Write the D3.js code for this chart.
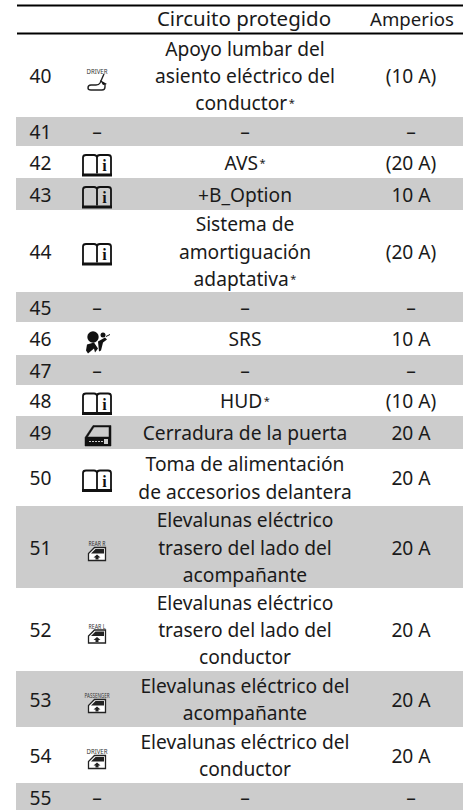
<!DOCTYPE html>
<html>
<head>
<meta charset="utf-8">
<script src="https://cdn.jsdelivr.net/npm/d3@7"></script>
<style>
html, body { margin: 0; padding: 0; background: #fff; }
svg { display: block; }
text { font-family: "Noto Sans", sans-serif; fill: #1a1a1a; }
</style>
</head>
<body>
<div id="chart"></div>
<script>
const fuses = [40, 41, 42, 43, 44, 45, 46, 47, 48, 49, 50, 51, 52, 53, 54, 55];
const icons = ["seat", "", "book", "book", "book", "", "airbag", "", "book", "door", "book", "window", "window", "window", "window", ""];
const iconLabels = ["DRIVER", "", "", "", "", "", "", "", "", "", "", "REAR R", "REAR L", "PASSENGER", "DRIVER", ""];
const circuits = [
  ["Apoyo lumbar del", "asiento eléctrico del", "conductor*"],
  ["–"],
  ["AVS*"],
  ["+B_Option"],
  ["Sistema de", "amortiguación", "adaptativa*"],
  ["–"],
  ["SRS"],
  ["–"],
  ["HUD*"],
  ["Cerradura de la puerta"],
  ["Toma de alimentación", "de accesorios delantera"],
  ["Elevalunas eléctrico", "trasero del lado del", "acompañante"],
  ["Elevalunas eléctrico", "trasero del lado del", "conductor"],
  ["Elevalunas eléctrico del", "acompañante"],
  ["Elevalunas eléctrico del", "conductor"],
  ["–"]
];
const amps = ["(10 A)", "–", "(20 A)", "10 A", "(20 A)", "–", "10 A", "–", "(10 A)", "20 A", "20 A", "20 A", "20 A", "20 A", "20 A", "–"];
const headers = ["Circuito protegido", "Amperios"];

// row edges measured from the page, the last row runs off the bottom
const rowEdges = [34, 117, 146, 178, 210, 292, 322, 355, 385, 416, 449, 506, 588, 671, 727, 783, 812];

const svgWidth = 467, svgHeight = 810;
const left = 16, right = 463;
const lineHeight = 27.4, fontSize = 19.2;
const col = { num: 40.5, icon: 97, circuit: 245, amps: 411 };

const svg = d3.select("#chart").append("svg")
  .attr("width", svgWidth)
  .attr("height", svgHeight);

const rows = fuses.map((f, i) => ({
  fuse: f, icon: icons[i], label: iconLabels[i], lines: circuits[i], amp: amps[i],
  y0: rowEdges[i], y1: rowEdges[i + 1], cy: (rowEdges[i] + rowEdges[i + 1]) / 2
}));

// zebra, odd fuse numbers are grey
svg.selectAll(".band")
  .data(rows.filter(d => d.fuse % 2 == 1))
  .enter().append("rect")
  .attr("class", "band")
  .attr("x", left)
  .attr("y", d => d.y0)
  .attr("width", right - left)
  .attr("height", d => d.y1 - d.y0)
  .attr("fill", "#cccccc");

// header rules
svg.selectAll(".rule")
  .data([5.5, 33.5])
  .enter().append("line")
  .attr("x1", left + 1).attr("x2", right)
  .attr("y1", d => d).attr("y2", d => d)
  .attr("stroke", "#000").attr("stroke-width", 2);

svg.selectAll(".head")
  .data(headers)
  .enter().append("text")
  .attr("x", (d, i) => i == 0 ? 244 : 412)
  .attr("y", 26)
  .attr("text-anchor", "middle")
  .attr("font-size", (d, i) => i == 0 ? 20.5 : 18.6)
  .text(d => d);

const row = svg.selectAll(".row")
  .data(rows)
  .enter().append("g")
  .attr("class", "row");

row.append("text")
  .attr("x", col.num)
  .attr("y", d => d.cy + 7.5)
  .attr("text-anchor", "middle")
  .attr("font-size", fontSize)
  .text(d => d.fuse);

row.append("text")
  .attr("x", col.amps)
  .attr("y", d => d.cy + 7.5)
  .attr("text-anchor", "middle")
  .attr("font-size", fontSize)
  .text(d => d.amp);

// dash in the icon column for empty fuses
row.filter(d => d.icon == "").append("text")
  .attr("x", col.icon)
  .attr("y", d => d.cy + 7.5)
  .attr("text-anchor", "middle")
  .attr("font-size", fontSize)
  .text("–");

row.each(function(d) {
  const g = d3.select(this);
  d.lines.forEach((line, i) => {
    const t = g.append("text")
      .attr("x", col.circuit)
      .attr("y", d.cy + 7.5 + (i - (d.lines.length - 1) / 2) * lineHeight)
      .attr("text-anchor", "middle")
      .attr("font-size", fontSize);
    if (line.endsWith("*")) {
      t.append("tspan").text(line.slice(0, -1));
      t.append("tspan").attr("font-size", 11).attr("dy", -3).attr("dx", 1.5).text("*");
    } else {
      t.text(line);
    }
  });
});

function drawBook(g) {
  g.append("path")
    .attr("d", "M-14,9 V-8 Q-14,-10.5 -11,-10.5 H-3 Q0,-10.5 0,-8 V8 M0,-8 Q0,-10.5 3,-10.5 H11 Q14,-10.5 14,-8 V9")
    .attr("fill", "none").attr("stroke", "#111").attr("stroke-width", 1.8);
  g.append("path").attr("d", "M-15,8 H15 V11 H-15 Z").attr("fill", "#111");
  g.append("text").attr("x", 7.5).attr("y", 5.5).attr("text-anchor", "middle")
    .attr("font-size", 16).attr("font-weight", 700)
    .style("font-family", "'Liberation Serif', serif").style("fill", "#111").text("i");
}

function drawSeat(g) {
  g.append("path")
    .attr("d", "M7,-8 L3,1 Q2,3 -1,3 L-6,3 Q-9,3 -9,6 Q-9,8 -6,8 H5 Q8,8 8,5 V2")
    .attr("fill", "none").attr("stroke", "#222").attr("stroke-width", 1.4);
  g.append("path").attr("d", "M3,-2 L10,2 L6,3 Z").attr("fill", "#111");
}

function drawAirbag(g) {
  g.append("circle").attr("cx", -4).attr("cy", -5.5).attr("r", 5.7).attr("fill", "#111");
  g.append("circle").attr("cx", 6).attr("cy", -7.5).attr("r", 2.5).attr("fill", "#111");
  g.append("path").attr("d", "M-10,2 L-3,0 L1,6 L-2,10 L-3,6 L-9,11 L-11,8 Z").attr("fill", "#111");
  g.append("path").attr("d", "M1,-1 L8,-5 L10,-3 L6,0 L4,8 L2,9 Z").attr("fill", "#111");
  g.append("path").attr("d", "M9,-6 L13,-8").attr("stroke", "#111").attr("stroke-width", 1);
}

function drawDoor(g) {
  g.append("path")
    .attr("d", "M-12,9.5 V1 L-4,-11 H14 V9.5 Z M-9.5,0.5 H12 V-9.5 H-3 Z")
    .attr("fill", "#111").attr("fill-rule", "evenodd").attr("stroke", "#111").attr("stroke-width", 0.5).attr("stroke-linejoin", "round");
  g.append("path").attr("d", "M-8,5 H6").attr("stroke", "#ccc").attr("stroke-width", 1.2).attr("stroke-dasharray", "2,1");
  g.append("rect").attr("x", 7).attr("y", 2.5).attr("width", 4).attr("height", 5).attr("fill", "#ccc");
}

function drawWindow(g) {
  g.append("path")
    .attr("d", "M-8.5,6.5 V-0.5 L-2.5,-6.5 H8.5 V6.5 Z")
    .attr("fill", "#fff").attr("stroke", "#222").attr("stroke-width", 1.3);
  g.append("path").attr("d", "M-6,-0.5 L-1.5,-5 H7 V-0.5 Z").attr("fill", "#222");
  g.append("path").attr("d", "M0,0.5 L3.5,3.5 H1.5 V5.5 H-1.5 V3.5 H-3.5 Z").attr("fill", "#222");
}

const draw = { book: drawBook, seat: drawSeat, airbag: drawAirbag, door: drawDoor, window: drawWindow };
const iconShift = { book: 3.5, seat: 6.5, airbag: 4, door: 4, window: 7 };

row.filter(d => d.icon != "").each(function(d) {
  const g = d3.select(this).append("g")
    .attr("transform", `translate(${col.icon},${d.cy + iconShift[d.icon]})`);
  draw[d.icon](g);
  if (d.label) {
    g.append("text")
      .attr("x", 0).attr("y", -8)
      .attr("text-anchor", "middle")
      .attr("font-size", 7.5)
      .attr("textLength", d.label.length > 6 ? 25 : (d.label == "DRIVER" ? 21 : 17))
      .attr("lengthAdjust", "spacingAndGlyphs")
      .style("fill", "#333")
      .text(d.label);
  }
});
</script>
</body>
</html>
